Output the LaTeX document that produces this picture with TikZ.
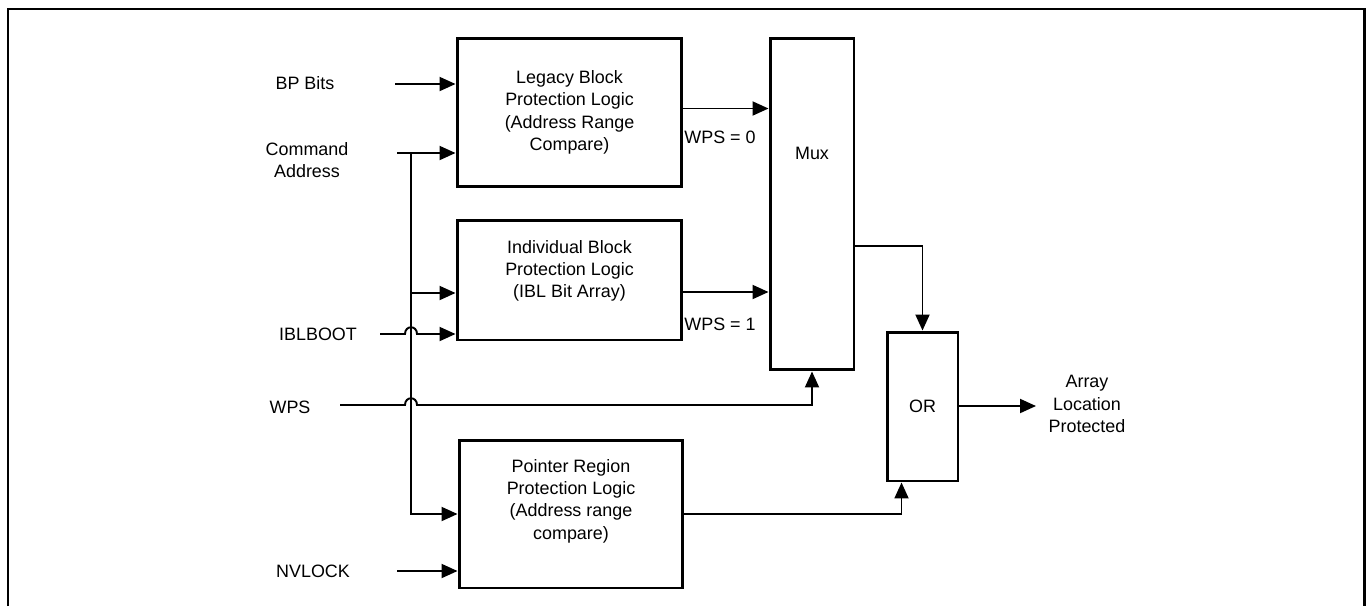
\documentclass[tikz,border=0pt]{standalone}
\usepackage{fontspec}
\setmainfont{Liberation Sans}
\usetikzlibrary{arrows.meta,calc}
\tikzset{
  blk/.style={draw,line width=1.7pt,align=center,inner sep=0pt},
  wire/.style={line width=1.1pt},
  arr/.style={wire,-{Triangle[length=0.32cm,width=0.28cm]}},
  lbl/.style={align=center,inner sep=0pt}
}
\begin{document}
\begin{tikzpicture}[x=0.02cm,y=-0.02cm,font=\fontsize{10.2}{12.7}\selectfont]
        \useasboundingbox (0,0) rectangle (1369,606);
        \draw[line width=1.7pt] (8,606) -- (8,9) -- (1364,9) -- (1364,606);
        % blocks
        \node[blk,minimum width=4.5cm,minimum height=2.98cm] (legacy) at (569.5,112.5) {Legacy Block\\Protection Logic\\(Address Range\\Compare)};
        \node[blk,minimum width=4.5cm,minimum height=2.4cm] (indiv) at (569.5,280) {};
        \node[lbl] (indivtxt) at (569.5,271) {Individual Block\\Protection Logic\\(IBL Bit Array)};
        \node[blk,minimum width=4.48cm,minimum height=2.96cm] (pointer) at (571,514) {};
        \node[lbl] (pointertxt) at (571,501) {Pointer Region\\Protection Logic\\(Address range\\compare)};
        \node[blk,minimum width=1.68cm,minimum height=6.64cm] (mux) at (812,204) {};
        \node[lbl] (muxtxt) at (812,153) {Mux};
        \node[blk,minimum width=1.42cm,minimum height=2.98cm] (orb) at (922.5,406.5) {OR};
        % inputs
        \node[lbl] (bp) at (305,83) {BP Bits};
        \node[lbl] (ca) at (307,160) {Command\\Address};
        \node[lbl] (ibl) at (318,334) {IBLBOOT};
        \node[lbl] (wps) at (290,407) {WPS};
        \node[lbl] (nv) at (313,571) {NVLOCK};
        \node[lbl] (wps0) at (720,137) {WPS = 0};
        \node[lbl] (wps1) at (720,324) {WPS = 1};
        \node[lbl] (out) at (1087,404) {Array\\Location\\Protected};
        \coordinate (bpin) at (395,84);
        \coordinate (cain) at (397,153);
        \coordinate (iblin) at (380,334);
        \coordinate (wpsin) at (340,405);
        \coordinate (nvin) at (397,571);
        \coordinate (bus) at (411,153);
        \coordinate (busib) at (411,293);
        \coordinate (muxo) at (854,246);
        \coordinate (outend) at (1036,406);
        % wires
        \draw[arr] (bpin) -- (bpin -| legacy.west);
        \draw[arr] (cain) -- (cain -| legacy.west);
        \draw[arr] (bus) |- (pointer.west);
        \draw[arr] (busib) -- (busib -| indiv.west);
        \draw[arr] (nvin) -- (nvin -| pointer.west);
        \draw[arr] (iblin) -- ($(iblin -| bus)+(-6,0)$) .. controls +(0,-9) and +(0,-9) .. ($(iblin -| bus)+(6,0)$) -- (iblin -| indiv.west);
        \draw[arr] (wpsin) -- ($(wpsin -| bus)+(-6,0)$) .. controls +(0,-9) and +(0,-9) .. ($(wpsin -| bus)+(6,0)$) -| (mux.south);
        \draw[arr] ($(legacy.east)+(0,-4)$) -- ($(legacy.east -| mux.west)+(0,-4)$);
        \draw[arr] ($(indiv.east)+(0,12)$) -- ($(indiv.east -| mux.west)+(0,12)$);
        \draw[arr] (muxo) -| (orb.north);
        \draw[arr] (pointer.east) -| ($(orb.south west)+(16,0)$);
        \draw[arr] (orb.east |- outend) -- (outend);
    \end{tikzpicture}
\end{document}
